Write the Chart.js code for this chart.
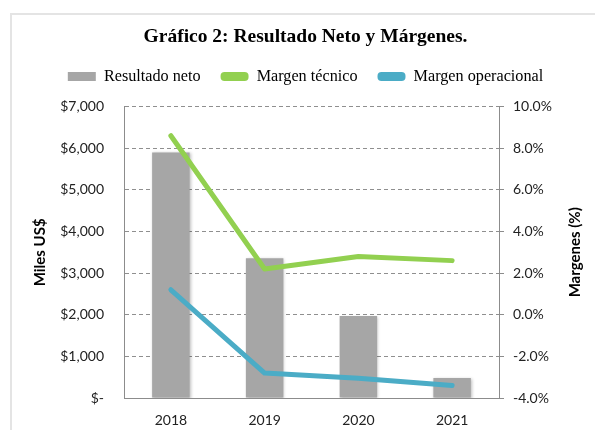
<!DOCTYPE html>
<html>
<head>
<meta charset="utf-8">
<script src="https://cdn.jsdelivr.net/npm/chart.js@4/dist/chart.umd.min.js"></script>
<style>
  html, body { margin: 0; padding: 0; background: #fff; }
  .frame {
    position: absolute; left: 10px; top: 13px; width: 600px; height: 430px;
    border-left: 2px solid #e4e4e4; border-top: 2px solid #e4e4e4;
  }
  .wrap { position: absolute; left: 0; top: 0; width: 595px; height: 430px; }
</style>
</head>
<body>
<div class="frame"></div>
<div class="wrap"><canvas id="chart" width="595" height="430"></canvas></div>
<script>
// datos
const years = ["2018", "2019", "2020", "2021"];
const resultadoNeto = [5900, 3360, 1970, 480];       // miles US$
const margenTecnico = [8.6, 2.2, 2.8, 2.6];           // %
const margenOperacional = [1.2, -2.8, -3.05, -3.4];   // %
const rightTitle = "Margenes (%)";

const tickFont = { family: "Lato, 'Open Sans', sans-serif", size: 14 };
const axisTitleFont = { family: "Lato, 'Open Sans', sans-serif", size: 15, weight: "bold" };
const serif = "'Liberation Serif', 'Times New Roman', serif";

// sombra suave de las barras, como en el original de Excel
const barShadow = {
  id: "barShadow",
  beforeDatasetDraw(chart, args) {
    if (args.index !== 0) return;
    const c = chart.ctx;
    c.save();
    c.shadowColor = "rgba(0,0,0,0.25)";
    c.shadowBlur = 3;
    c.shadowOffsetX = 1;
    c.shadowOffsetY = 1;
  },
  afterDatasetDraw(chart, args) {
    if (args.index !== 0) return;
    chart.ctx.restore();
  }
};

// un poco más de aire entre leyenda y gráfico
const legendGap = {
  id: "legendGap",
  beforeLayout(chart) {
    const lg = chart.legend;
    if (!lg || lg._gapPatched) return;
    const fit = lg.fit;
    lg.fit = function () {
      fit.call(this);
      this.height += 12;
    };
    lg._gapPatched = true;
  }
};

// el título derecho se lee de abajo hacia arriba (como en Excel)
const rightAxisTitle = {
  id: "rightAxisTitle",
  afterDraw(chart) {
    const s = chart.scales.y1;
    const c = chart.ctx;
    c.save();
    c.translate(575, (s.top + s.bottom) / 2);
    c.rotate(-Math.PI / 2);
    c.font = "bold 15px Lato, 'Open Sans', sans-serif";
    c.fillStyle = "#000";
    c.textAlign = "center";
    c.textBaseline = "middle";
    c.fillText(rightTitle, 0, 0);
    c.restore();
  }
};

new Chart(document.getElementById("chart"), {
  data: {
    labels: years,
    datasets: [
      {
        type: "bar",
        label: "Resultado neto",
        data: resultadoNeto,
        backgroundColor: "#a6a6a6",
        borderWidth: 0,
        barPercentage: 0.4,
        categoryPercentage: 1,
        yAxisID: "y",
        order: 2
      },
      {
        type: "line",
        label: "Margen técnico",
        data: margenTecnico,
        borderColor: "#92d050",
        backgroundColor: "#92d050",
        borderWidth: 5,
        borderCapStyle: "round",
        borderJoinStyle: "round",
        pointRadius: 0,
        tension: 0,
        yAxisID: "y1",
        order: 1
      },
      {
        type: "line",
        label: "Margen operacional",
        data: margenOperacional,
        borderColor: "#4bacc6",
        backgroundColor: "#4bacc6",
        borderWidth: 5,
        borderCapStyle: "round",
        borderJoinStyle: "round",
        pointRadius: 0,
        tension: 0,
        yAxisID: "y1",
        order: 1
      }
    ]
  },
  options: {
    responsive: false,
    animation: false,
    layout: { padding: { left: 24, right: 8, top: 25, bottom: 0 } },
    plugins: {
      title: {
        display: true,
        text: "Gráfico 2: Resultado Neto y Márgenes.",
        color: "#000",
        font: { family: serif, size: 19.5, weight: "bold" },
        padding: { top: 0, bottom: 0 }
      },
      legend: {
        display: true,
        position: "top",
        labels: {
          color: "#000",
          font: { family: serif, size: 16.2 },
          boxWidth: 28,
          boxHeight: 9,
          padding: 20,
          useBorderRadius: true,
          generateLabels(chart) {
            return chart.data.datasets.map((ds, i) => ({
              text: ds.label,
              fillStyle: ds.backgroundColor,
              strokeStyle: ds.backgroundColor,
              lineWidth: 0,
              borderRadius: ds.type === "line" ? 4 : 0,
              datasetIndex: i,
              hidden: !chart.isDatasetVisible(i)
            }));
          }
        }
      },
      tooltip: { enabled: false }
    },
    scales: {
      x: {
        grid: { display: false, drawTicks: false },
        border: { display: true, color: "#8c8c8c", width: 1 },
        ticks: { color: "#222", font: tickFont, padding: 14 },
        afterFit: (s) => { s.height = 32; }
      },
      y: {
        position: "left",
        min: 0,
        max: 7000,
        ticks: {
          stepSize: 1000,
          color: "#222",
          font: tickFont,
          padding: 20,
          callback: (v) => v === 0 ? "$-" : "$" + v.toLocaleString("en-US")
        },
        grid: { color: "#8f8f8f", drawTicks: false },
        border: { display: true, color: "#8c8c8c", width: 1, dash: [4, 3] },
        title: {
          display: true,
          text: "Miles US$",
          color: "#000",
          font: axisTitleFont,
          padding: { top: 7, bottom: 0 }
        },
        afterFit: (s) => { s.width = 100; }
      },
      y1: {
        position: "right",
        min: -4,
        max: 10,
        ticks: {
          stepSize: 2,
          color: "#222",
          font: tickFont,
          padding: 9,
          callback: (v) => v.toFixed(1) + "%"
        },
        grid: { drawOnChartArea: false, drawTicks: true, tickLength: 5, color: "#8c8c8c" },
        border: { display: true, color: "#8c8c8c", width: 1 },
        afterFit: (s) => { s.width = 88; }
      }
    }
  },
  plugins: [barShadow, legendGap, rightAxisTitle]
});
</script>
</body>
</html>
